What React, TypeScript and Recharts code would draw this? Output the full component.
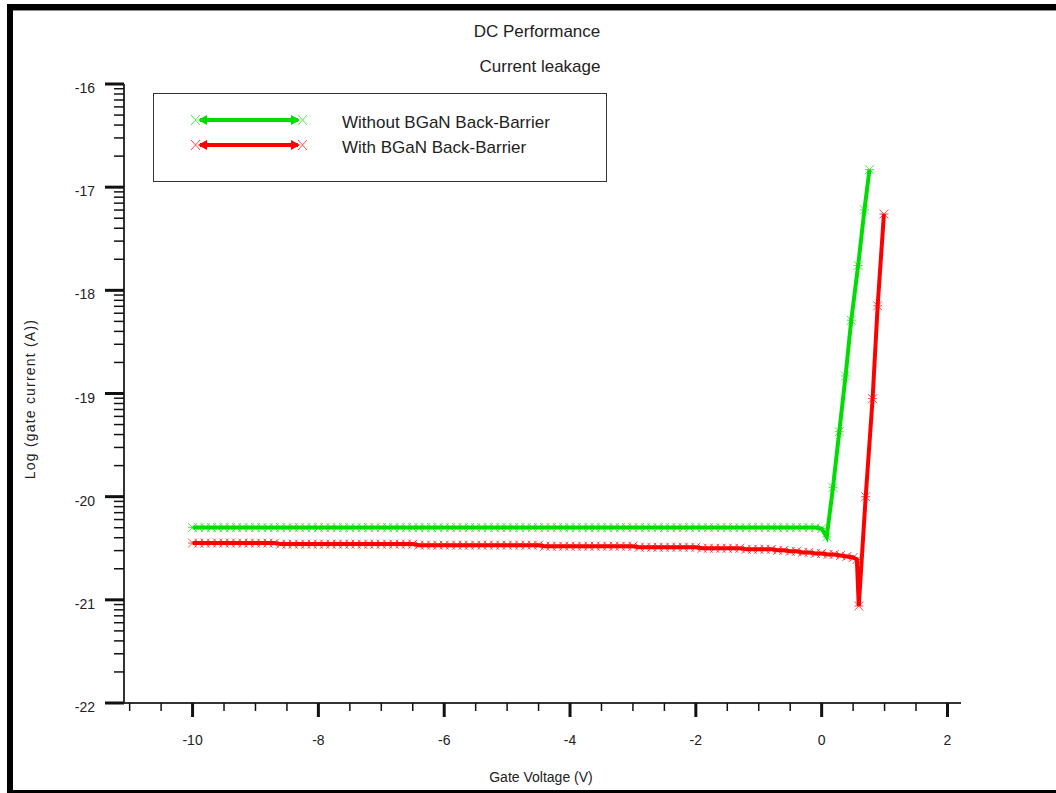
import React from 'react';
import { LineChart, Line, XAxis, YAxis } from 'recharts';

const FONT = '"Liberation Sans", Arial, sans-serif';
const GREEN = '#00dd00';
const RED = '#ff0000';

// gate sweep, -10 V .. 0 V in 0.1 V steps
const sweepV = [
  -10, -9.9, -9.8, -9.7, -9.6, -9.5, -9.4, -9.3, -9.2, -9.1,
  -9, -8.9, -8.8, -8.7, -8.6, -8.5, -8.4, -8.3, -8.2, -8.1,
  -8, -7.9, -7.8, -7.7, -7.6, -7.5, -7.4, -7.3, -7.2, -7.1,
  -7, -6.9, -6.8, -6.7, -6.6, -6.5, -6.4, -6.3, -6.2, -6.1,
  -6, -5.9, -5.8, -5.7, -5.6, -5.5, -5.4, -5.3, -5.2, -5.1,
  -5, -4.9, -4.8, -4.7, -4.6, -4.5, -4.4, -4.3, -4.2, -4.1,
  -4, -3.9, -3.8, -3.7, -3.6, -3.5, -3.4, -3.3, -3.2, -3.1,
  -3, -2.9, -2.8, -2.7, -2.6, -2.5, -2.4, -2.3, -2.2, -2.1,
  -2, -1.9, -1.8, -1.7, -1.6, -1.5, -1.4, -1.3, -1.2, -1.1,
  -1, -0.9, -0.8, -0.7, -0.6, -0.5, -0.4, -0.3, -0.2, -0.1,
  0,
];

// log10(Ig) over the sweep, without back-barrier
const greenFlat = [
  -20.3, -20.3, -20.3, -20.3, -20.3, -20.3, -20.3, -20.3, -20.3, -20.3,
  -20.3, -20.3, -20.3, -20.3, -20.3, -20.3, -20.3, -20.3, -20.3, -20.3,
  -20.3, -20.3, -20.3, -20.3, -20.3, -20.3, -20.3, -20.3, -20.3, -20.3,
  -20.3, -20.3, -20.3, -20.3, -20.3, -20.3, -20.3, -20.3, -20.3, -20.3,
  -20.3, -20.3, -20.3, -20.3, -20.3, -20.3, -20.3, -20.3, -20.3, -20.3,
  -20.3, -20.3, -20.3, -20.3, -20.3, -20.3, -20.3, -20.3, -20.3, -20.3,
  -20.3, -20.3, -20.3, -20.3, -20.3, -20.3, -20.3, -20.3, -20.3, -20.3,
  -20.3, -20.3, -20.3, -20.3, -20.3, -20.3, -20.3, -20.3, -20.3, -20.3,
  -20.3, -20.3, -20.3, -20.3, -20.3, -20.3, -20.3, -20.3, -20.3, -20.3,
  -20.3, -20.3, -20.3, -20.3, -20.3, -20.3, -20.3, -20.3, -20.3, -20.3,
  -20.31,
];

// log10(Ig) over the sweep, with BGaN back-barrier
const redFlat = [
  -20.45, -20.45, -20.45, -20.45, -20.45, -20.45, -20.45, -20.45, -20.45, -20.45,
  -20.45, -20.45, -20.45, -20.45, -20.46, -20.46, -20.46, -20.46, -20.46, -20.46,
  -20.46, -20.46, -20.46, -20.46, -20.46, -20.46, -20.46, -20.46, -20.46, -20.46,
  -20.46, -20.46, -20.46, -20.46, -20.46, -20.46, -20.47, -20.47, -20.47, -20.47,
  -20.47, -20.47, -20.47, -20.47, -20.47, -20.47, -20.47, -20.47, -20.47, -20.47,
  -20.47, -20.47, -20.47, -20.47, -20.47, -20.47, -20.48, -20.48, -20.48, -20.48,
  -20.48, -20.48, -20.48, -20.48, -20.48, -20.48, -20.48, -20.48, -20.48, -20.48,
  -20.48, -20.49, -20.49, -20.49, -20.49, -20.49, -20.49, -20.49, -20.49, -20.49,
  -20.49, -20.5, -20.5, -20.5, -20.5, -20.5, -20.5, -20.5, -20.51, -20.51,
  -20.51, -20.51, -20.51, -20.52, -20.52, -20.53, -20.53, -20.54, -20.54, -20.55,
  -20.55,
];

// forward-bias turn-on
const greenRiseV = [0.08, 0.18, 0.28, 0.38, 0.47, 0.58, 0.68, 0.76];
const greenRiseI = [-20.39, -19.91, -19.37, -18.83, -18.29, -17.76, -17.22, -16.83];

const redTailV = [0.1, 0.2, 0.3, 0.4, 0.5, 0.56, 0.59, 0.7, 0.81, 0.89, 0.99];
const redTailI = [-20.56, -20.56, -20.57, -20.58, -20.59, -20.61, -21.06, -20.0, -19.05, -18.15, -17.26];

const xTicks = [
  -11, -10.5, -10, -9.5, -9, -8.5, -8, -7.5, -7, -6.5, -6, -5.5, -5, -4.5,
  -4, -3.5, -3, -2.5, -2, -1.5, -1, -0.5, 0, 0.5, 1, 1.5, 2,
];
const xLabels = [-10, -8, -6, -4, -2, 0, 2];
const yLabels = [-22, -21, -20, -19, -18, -17, -16];

// log-decade minor ticks between the integer labels
const yMinor = yLabels.slice(0, -1).flatMap(d =>
  [2, 3, 4, 5, 6, 7, 8, 9].map(k => d + Math.log10(k))
);
const yTicks = [...yLabels, ...yMinor];

const series = [
  {
    name: 'Without BGaN Back-Barrier',
    color: GREEN,
    data: [
      ...sweepV.map((v, i) => ({ v, i: greenFlat[i] })),
      ...greenRiseV.map((v, i) => ({ v, i: greenRiseI[i] })),
    ],
  },
  {
    name: 'With BGaN Back-Barrier',
    color: RED,
    data: [
      ...sweepV.map((v, i) => ({ v, i: redFlat[i] })),
      ...redTailV.map((v, i) => ({ v, i: redTailI[i] })),
    ],
  },
];

const starDot = (color: string) => (p: any) => {
  const { cx, cy, index } = p;
  if (cx == null || cy == null) return <g key={index} />;
  const r = 4.5;
  return (
    <g key={index} stroke={color} strokeWidth={1} opacity={0.7}>
      <line x1={cx - r} y1={cy - r} x2={cx + r} y2={cy + r} />
      <line x1={cx - r} y1={cy + r} x2={cx + r} y2={cy - r} />
      <line x1={cx - r} y1={cy} x2={cx + r} y2={cy} />
    </g>
  );
};

const XTick = (p: any) => {
  const { x, y, payload } = p;
  const major = xLabels.includes(payload.value);
  return (
    <g>
      <line x1={x} y1={y} x2={x} y2={y + (major ? 14 : 8)} stroke="#111" strokeWidth={major ? 3 : 1.5} />
      {major && (
        <text x={x} y={y + 42} textAnchor="middle" fontSize={14} fill="#222" fontFamily={FONT}>
          {payload.value}
        </text>
      )}
    </g>
  );
};

const YTick = (p: any) => {
  const { x, y, payload } = p;
  const major = yLabels.includes(payload.value);
  return (
    <g>
      <line x1={x - (major ? 19 : 10)} y1={y} x2={x} y2={y} stroke="#111" strokeWidth={major ? 3 : 1.5} />
      {major && (
        <text x={x - 29} y={y + 9} textAnchor="end" fontSize={14} fill="#222" fontFamily={FONT}>
          {payload.value}
        </text>
      )}
    </g>
  );
};

const LegendSample = ({ color }: { color: string }) => (
  <svg width={118} height={14} style={{ display: 'block' }}>
    <line x1={10} y1={7} x2={108} y2={7} stroke={color} strokeWidth={4} />
    <polygon points="8,7 17,2 17,12" fill={color} />
    <polygon points="110,7 101,2 101,12" fill={color} />
    <g stroke={color} strokeWidth={1} opacity={0.7}>
      <line x1={1} y1={2} x2={10} y2={12} />
      <line x1={1} y1={12} x2={10} y2={2} />
      <line x1={108} y1={2} x2={117} y2={12} />
      <line x1={108} y1={12} x2={117} y2={2} />
    </g>
  </svg>
);

const band = (s: React.CSSProperties): React.CSSProperties => ({ position: 'absolute', background: '#000', ...s });

export default function App() {
  return (
    <div style={{ position: 'fixed', left: 0, top: 0, width: 1056, height: 793, background: '#fff', overflow: 'hidden', fontFamily: FONT, color: '#222' }}>
      <LineChart
        width={1056}
        height={793}
        margin={{ top: 84, right: 95, bottom: 50, left: 64 }}
        style={{ position: 'absolute', left: 0, top: 0 }}
      >
        <XAxis
          xAxisId="b"
          dataKey="v"
          type="number"
          domain={[-11.09, 2.215]}
          ticks={xTicks}
          interval={0}
          tickSize={0}
          tickMargin={0}
          height={40}
          allowDataOverflow
          axisLine={{ stroke: '#333', strokeWidth: 2 }}
          tick={<XTick />}
        />
        <XAxis
          xAxisId="t"
          orientation="top"
          dataKey="v"
          type="number"
          domain={[-11.09, 2.215]}
          height={0}
          tick={false}
          tickLine={false}
          axisLine={{ stroke: '#444', strokeWidth: 1.5 }}
        />
        <YAxis
          yAxisId="l"
          type="number"
          domain={[-22, -16]}
          ticks={yTicks}
          interval={0}
          tickSize={0}
          tickMargin={0}
          width={60}
          allowDataOverflow
          axisLine={{ stroke: '#333', strokeWidth: 2 }}
          tick={<YTick />}
        />
        <YAxis
          yAxisId="r"
          orientation="right"
          type="number"
          domain={[-22, -16]}
          width={0}
          tick={false}
          tickLine={false}
          axisLine={{ stroke: '#444', strokeWidth: 1.5 }}
        />
        {series.map(s => (
          <Line
            key={s.name}
            xAxisId="b"
            yAxisId="l"
            data={s.data}
            dataKey="i"
            type="linear"
            stroke={s.color}
            strokeWidth={4}
            dot={starDot(s.color)}
            activeDot={false}
            isAnimationActive={false}
          />
        ))}
      </LineChart>

      {/* window frame */}
      <div style={band({ left: 7, top: 4, width: 1049, height: 6 })} />
      <div style={{ position: 'absolute', left: 13, top: 10, width: 1043, height: 1, background: '#888' }} />
      <div style={band({ left: 7, top: 4, width: 6, height: 789 })} />
      <div style={band({ left: 7, top: 790, width: 1049, height: 3 })} />

      <div style={{ position: 'absolute', left: 437, top: 22, width: 200, textAlign: 'center', fontSize: 17, lineHeight: '20px' }}>
        DC Performance
      </div>
      <div style={{ position: 'absolute', left: 440, top: 57, width: 200, textAlign: 'center', fontSize: 17, lineHeight: '20px' }}>
        Current leakage
      </div>
      <div style={{ position: 'absolute', left: 441, top: 768, width: 200, textAlign: 'center', fontSize: 14, lineHeight: '18px' }}>
        Gate Voltage (V)
      </div>
      <div
        style={{
          position: 'absolute', left: -70, top: 390, width: 200, height: 18, textAlign: 'center',
          fontSize: 14, lineHeight: '18px', letterSpacing: 1.2, transform: 'rotate(-90deg)',
        }}
      >
        Log (gate current (A))
      </div>

      <div style={{ position: 'absolute', left: 153, top: 93, width: 454, height: 89, border: '1.5px solid #333', boxSizing: 'border-box', background: '#fff' }}>
        {series.map((s, k) => (
          <div key={s.name} style={{ position: 'absolute', left: 36, top: 16 + k * 25, display: 'flex', alignItems: 'center' }}>
            <LegendSample color={s.color} />
            <span style={{ marginLeft: 34, fontSize: 17, lineHeight: '20px', position: 'relative', top: 3 }}>{s.name}</span>
          </div>
        ))}
      </div>
    </div>
  );
}
